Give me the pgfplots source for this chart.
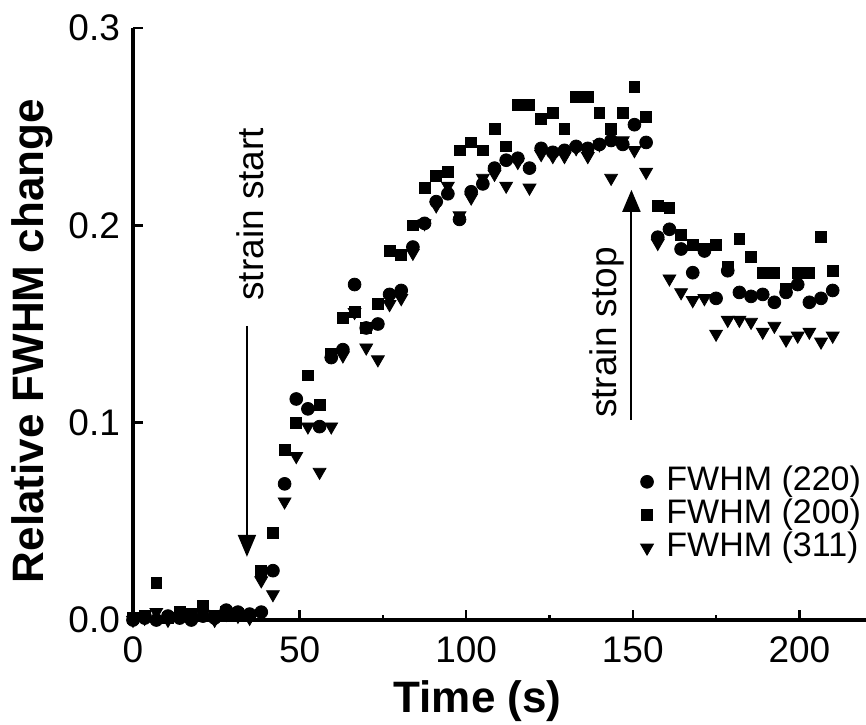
\documentclass[border=0pt]{standalone}
\usepackage{fontspec}
\setmainfont{Liberation Sans}
\usepackage{pgfplots}
\usepackage{pgfplotstable}
\pgfplotsset{compat=1.18}
\usetikzlibrary{arrows.meta}

% t = time (s); c = FWHM(220), s = FWHM(200), v = FWHM(311)
\pgfplotstableread{
t     c      s      v
0     0.000  0.001  0.000
3.5   0.001  0.002  0.001
7     0.000  0.019  0.004
10.5  0.002  0.001  0.000
14    0.001  0.004  0.002
17.5  0.000  0.003  0.001
21    0.002  0.007  0.003
24.5  0.001  0.002  0.000
28    0.005  0.004  0.003
31.5  0.004  0.003  0.002
35    0.003  0.002  0.001
38.5  0.004  0.025  0.020
42    0.025  0.044  0.013
45.5  0.069  0.086  0.060
49    0.112  0.100  0.083
52.5  0.107  0.124  0.098
56    0.098  0.109  0.075
59.5  0.133  0.135  0.098
63    0.137  0.153  0.134
66.5  0.170  0.156  0.156
70    0.148  0.148  0.138
73.5  0.150  0.160  0.132
77    0.165  0.187  0.160
80.5  0.167  0.185  0.163
84    0.189  0.200  0.186
87.5  0.201  0.219  0.201
91    0.212  0.225  0.210
94.5  0.216  0.227  0.220
98    0.203  0.238  0.205
101.5 0.217  0.242  0.214
105   0.221  0.238  0.224
108.5 0.229  0.249  0.226
112   0.233  0.240  0.220
115.5 0.234  0.261  0.232
119   0.229  0.261  0.219
122.5 0.239  0.254  0.236
126   0.237  0.257  0.235
129.5 0.238  0.249  0.235
133   0.240  0.265  0.239
136.5 0.239  0.265  0.235
140   0.241  0.257  0.241
143.5 0.243  0.249  0.224
147   0.241  0.257  0.243
150.5 0.251  0.270  0.238
154   0.242  0.255  0.227
157.5 0.194  0.210  0.191
161   0.198  0.209  0.173
164.5 0.188  0.195  0.166
168   0.176  0.190  0.162
171.5 0.187  0.188  0.163
175   0.163  0.190  0.145
178.5 0.177  0.179  0.152
182   0.166  0.193  0.152
185.5 0.164  0.184  0.151
189   0.165  0.176  0.146
192.5 0.161  0.176  0.149
196   0.166  0.168  0.142
199.5 0.170  0.176  0.144
203   0.161  0.176  0.146
206.5 0.163  0.194  0.141
210   0.167  0.177  0.144
}\fwhm

\begin{document}
\begin{tikzpicture}
\useasboundingbox (-66.5pt,-52pt) rectangle (366.5pt,310pt);
\begin{axis}[
    scale only axis,
    width=366.5pt, height=296pt,
    xmin=0, xmax=220, ymin=0, ymax=0.3,
    clip=false,
    axis lines*=left,
    axis line style={line width=1.6pt},
    tick align=inside,
    every tick/.style={black, line width=1.2pt},
    major tick length=5pt, minor tick length=2.5pt,
    xtick={0,50,100,150,200},
    minor xtick={25,75,125,175},
    ytick={0,0.1,0.2,0.3},
    /pgf/number format/assume math mode=true,
    yticklabel style={/pgf/number format/fixed, /pgf/number format/fixed zerofill,
        /pgf/number format/precision=1, xshift=-3pt},
    xticklabel style={yshift=-5pt},
    tick label style={font=\fontsize{18.5}{20}\selectfont},
    xlabel={\bfseries Time (s)},
    ylabel={\bfseries Relative FWHM change},
    label style={font=\fontsize{22}{24}\selectfont},
    xlabel style={at={(axis description cs:0.47,-0.157)}, anchor=base},
    ylabel style={at={(axis description cs:-0.138,0.471)}, anchor=center},
    legend cell align=left,
    legend image code/.code={\draw[#1] plot coordinates {(0pt,0pt)}; \path (-3pt,0pt) (9.5pt,0pt);},
    legend style={draw=none, fill=none, inner sep=0pt, anchor=north west,
        at={(0.692,0.262)}, font=\fontsize{17}{16}\selectfont,
        nodes={inner sep=0pt, text height=12.5pt, text depth=4pt}},
]
\addplot[only marks, mark=*, mark size=3.2pt, black] table[x=t, y=c] {\fwhm};
\addlegendentry{FWHM (220)}
\addplot[only marks, mark=square*, mark size=2.7pt, black] table[x=t, y=s] {\fwhm};
\addlegendentry{FWHM (200)}
\addplot[only marks, mark=triangle*, mark size=3.7pt, black, mark options={rotate=180}] table[x=t, y=v] {\fwhm};
\addlegendentry{FWHM (311)}

\draw[line width=1pt, -{Triangle[width=9pt,length=11pt]}] (axis cs:34.2,0.149) -- (axis cs:34.2,0.032);
\node[rotate=90, font=\fontsize{18.5}{20}\selectfont] at (axis cs:35.1,0.2056) {strain start};
\draw[line width=1pt, -{Triangle[width=9pt,length=11pt]}] (axis cs:149.6,0.1015) -- (axis cs:149.6,0.218);
\node[rotate=90, font=\fontsize{18.5}{20}\selectfont] at (axis cs:142.1,0.1457) {strain stop};
\end{axis}
\end{tikzpicture}
\end{document}
